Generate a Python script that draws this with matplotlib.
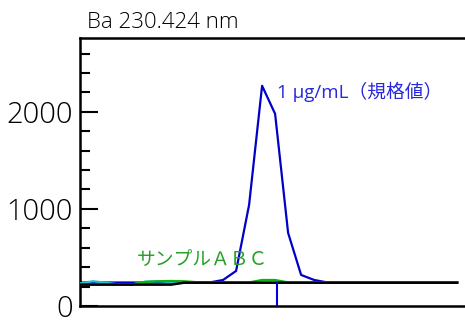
import matplotlib
matplotlib.use("Agg")
import matplotlib.pyplot as plt
from matplotlib.ticker import MultipleLocator

plt.rcParams['font.family'] = ['Open Sans', 'Noto Sans CJK JP', 'DejaVu Sans']

# Profile sampled at equally spaced points across the Ba 230.424 nm window
points = list(range(30))

standard_1ug = [242, 242, 242, 242, 242, 242, 242, 242, 242, 242,
                243, 268, 361, 1041, 2268, 1979, 753, 320, 268, 243,
                243, 243, 243, 243, 243, 243, 243, 243, 243, 243]
blank = [220, 220, 220, 220, 220, 220, 220, 220, 240, 240,
         240, 240, 240, 240, 240, 240, 240, 240, 240, 240,
         240, 240, 240, 240, 240, 240, 240, 240, 240, 240]
sample_a = [233, 255, 240, 222, 222, 250, 255, 245, 242, 242,
            242, 242, 242, 242, 242, 242, 242, 242, 242, 242,
            242, 242, 242, 242, 242, 242, 242, 242, 242, 242]
sample_b = [222, 222, 222, 222, 222, 248, 255, 258, 255, 245,
            243, 243, 243, 243, 268, 268, 243, 243, 243, 243,
            243, 243, 243, 243, 243, 243, 243, 243, 243, 243]

peak_position = 15.15
peak_marker_top = 243

standard_label = "1 μg/mL（規格値）"
sample_label = "サンプルＡＢＣ"
title = "Ba 230.424 nm"

fig = plt.figure(figsize=(4.65, 3.23), dpi=100)
ax = fig.add_axes([80 / 465, 17 / 323, 385 / 465, 268 / 323])

ax.plot(points, standard_1ug, color='#0000c8', lw=1.6, zorder=2)
ax.plot(points, sample_a, color='#20c0c8', lw=1.6, zorder=3)
ax.plot(points, sample_b, color='#10b010', lw=1.6, zorder=4)
ax.plot(points, blank, color='#000000', lw=1.8, zorder=5)
ax.vlines(peak_position, 0, peak_marker_top, color='#0000e0', lw=1.5, zorder=6)

ax.text(peak_position, 2206, standard_label, color='#2828e0', fontsize=13.5,
        ha='left', va='center')
ax.text(4.4, 474, sample_label, color='#28a028', fontsize=13.5,
        ha='left', va='center')

ax.set_xlim(0, 29.6)
ax.set_ylim(0, 2760)
ax.set_xticks([])
ax.yaxis.set_major_locator(MultipleLocator(1000))
ax.yaxis.set_minor_locator(MultipleLocator(200))
ax.tick_params(axis='y', which='major', direction='in', length=13, width=1.5,
               labelsize=21, pad=5)
ax.tick_params(axis='y', which='minor', direction='in', length=7, width=1.5)
for lbl in ax.get_yticklabels():
    lbl.set_fontweight('light')

for side in ('left', 'top', 'bottom'):
    ax.spines[side].set_linewidth(1.8)
ax.spines['right'].set_visible(False)

fig.text(87 / 465, 1 - 22 / 323, title, fontsize=16, ha='left', va='center',
         fontweight='light')

fig.savefig('out.png', dpi=100)
